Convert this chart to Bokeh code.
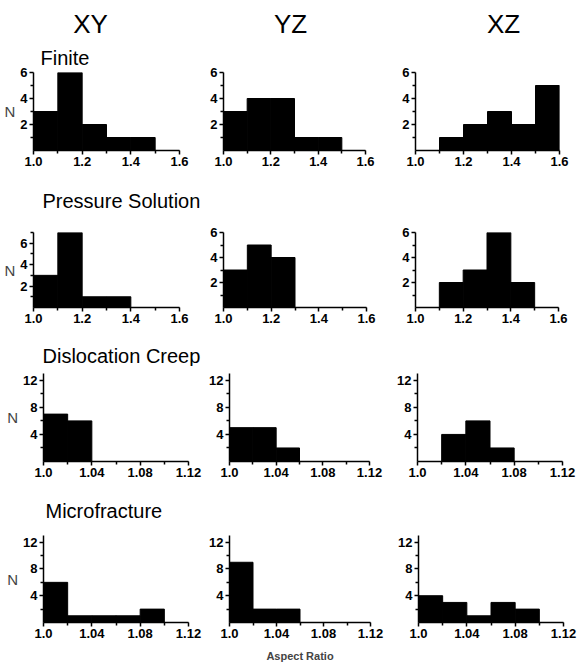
from bokeh.plotting import figure
from bokeh.layouts import column, row
from bokeh.models import Range1d, FixedTicker, CustomJSTickFormatter, Label
from bokeh.embed import file_html
from bokeh.resources import INLINE

# ---------------- data ----------------
edges_coarse = [1.0, 1.1, 1.2, 1.3, 1.4, 1.5, 1.6]
edges_fine = [1.0, 1.02, 1.04, 1.06, 1.08, 1.10, 1.12]

ticks_coarse = [1.0, 1.2, 1.4, 1.6]
minor_coarse = [1.1, 1.3, 1.5]
ticks_fine = [1.0, 1.04, 1.08, 1.12]
minor_fine = [1.02, 1.06, 1.10]

yticks_small = [2, 4, 6]
yminor_small = [1, 3, 5, 7]
yticks_large = [4, 8, 12]
yminor_large = [2, 6, 10]

planes = ["XY", "YZ", "XZ"]
mechanisms = ["Finite", "Pressure Solution", "Dislocation Creep", "Microfracture"]

finite_xy = [3, 6, 2, 1, 1, 0]
finite_yz = [3, 4, 4, 1, 1, 0]
finite_xz = [0, 1, 2, 3, 2, 5]

pressure_xy = [3, 7, 1, 1, 0, 0]
pressure_yz = [3, 5, 4, 0, 0, 0]
pressure_xz = [0, 2, 3, 6, 2, 0]

disloc_xy = [7, 6, 0, 0, 0, 0]
disloc_yz = [5, 5, 2, 0, 0, 0]
disloc_xz = [0, 4, 6, 2, 0, 0]

micro_xy = [6, 1, 1, 1, 2, 0]
micro_yz = [9, 2, 2, 0, 0, 0]
micro_xz = [4, 3, 1, 3, 2, 0]

FONT = "Liberation Sans"

fmt = CustomJSTickFormatter(code="""
const s = tick.toFixed(2);
return s.endsWith("0") ? tick.toFixed(1) : s;
""")


def strip(h, items):
    p = figure(width=580, height=h, x_range=Range1d(0, 580), y_range=Range1d(0, h),
               output_backend="svg", toolbar_location=None, min_border=0,
               x_axis_location=None, y_axis_location=None)
    p.grid.visible = False
    p.outline_line_color = None
    for txt, x, ytop, size, align in items:
        p.add_layout(Label(x=x, y=h - ytop, text=txt, text_font=FONT,
                           text_font_size=size, text_align=align,
                           text_baseline="middle", text_color="black"))
    return p


def panel(counts, edges, ymax, xt, xm, yt, ym, width, height, bl, br, bt, bb,
          ylabel=None, xlabel=None, title=None):
    p = figure(width=width, height=height,
               x_range=Range1d(edges[0], edges[-1]), y_range=Range1d(0, ymax),
               output_backend="svg", toolbar_location=None,
               min_border_left=bl, min_border_right=br,
               min_border_top=bt, min_border_bottom=bb)
    if title:
        p.title.text = title
        p.title.align = "left"
        p.title.offset = 7
        p.title.standoff = 8
        p.title.text_font = FONT
        p.title.text_font_size = "20px"
        p.title.text_font_style = "normal"
        p.title.text_color = "black"
    p.quad(left=edges[:-1], right=edges[1:], bottom=0, top=counts,
           fill_color="black", line_color="black", line_width=1)
    p.grid.visible = False
    p.outline_line_color = None
    p.xaxis.ticker = FixedTicker(ticks=xt, minor_ticks=xm)
    p.xaxis.formatter = fmt
    p.yaxis.ticker = FixedTicker(ticks=yt, minor_ticks=ym)
    for ax in (p.xaxis[0], p.yaxis[0]):
        ax.axis_line_width = 1.5
        ax.axis_line_color = "black"
        ax.major_tick_line_width = 1.5
        ax.minor_tick_line_width = 1.5
        ax.major_tick_line_color = "black"
        ax.minor_tick_line_color = "black"
        ax.major_tick_out = 4
        ax.major_tick_in = 0
        ax.minor_tick_out = 3
        ax.minor_tick_in = 0
        ax.major_label_text_font = FONT
        ax.major_label_text_font_style = "bold"
        ax.major_label_text_font_size = "13px"
        ax.major_label_text_color = "black"
        ax.major_label_standoff = 2
    if ylabel:
        p.yaxis.axis_label = ylabel
        p.yaxis.axis_label_orientation = "horizontal"
        p.yaxis.axis_label_text_font = FONT
        p.yaxis.axis_label_text_font_style = "normal"
        p.yaxis.axis_label_text_font_size = "15px"
        p.yaxis.axis_label_standoff = 2
    if xlabel:
        p.xaxis.axis_label = xlabel
        p.xaxis.axis_label_text_font = FONT
        p.xaxis.axis_label_text_font_style = "bold"
        p.xaxis.axis_label_text_font_size = "11px"
        p.xaxis.axis_label_standoff = 9
    return p


W = [206, 184, 190]

s0 = strip(40, [(planes[0], 90, 23, "26px", "center"),
                (planes[1], 290, 23, "26px", "center"),
                (planes[2], 503, 23, "26px", "center")])

r1 = row(
    panel(finite_xy, edges_coarse, 6, ticks_coarse, minor_coarse, yticks_small, yminor_small,
          W[0], 132, 33, 27, 32, 22, ylabel="N", title=mechanisms[0]),
    panel(finite_yz, edges_coarse, 6, ticks_coarse, minor_coarse, yticks_small, yminor_small,
          W[1], 132, 17, 25, 32, 22),
    panel(finite_xz, edges_coarse, 6, ticks_coarse, minor_coarse, yticks_small, yminor_small,
          W[2], 132, 25, 21, 32, 22),
)
s1 = strip(40, [(mechanisms[1], 42, 28, "20px", "left")])
r2 = row(
    panel(pressure_xy, edges_coarse, 7, ticks_coarse, minor_coarse, yticks_small, yminor_small,
          W[0], 117, 33, 27, 6, 22, ylabel="N"),
    panel(pressure_yz, edges_coarse, 6, ticks_coarse, minor_coarse, yticks_small, yminor_small,
          W[1], 117, 17, 24, 20, 22),
    panel(pressure_xz, edges_coarse, 6, ticks_coarse, minor_coarse, yticks_small, yminor_small,
          W[2], 117, 25, 22, 20, 22),
)
s2 = strip(37, [(mechanisms[2], 42, 26, "20px", "left")])
r3 = row(
    panel(disloc_xy, edges_fine, 13, ticks_fine, minor_fine, yticks_large, yminor_large,
          W[0], 117, 43, 18, 7, 22, ylabel="N"),
    panel(disloc_yz, edges_fine, 13, ticks_fine, minor_fine, yticks_large, yminor_large,
          W[1], 117, 20, 21, 7, 22),
    panel(disloc_xz, edges_fine, 13, ticks_fine, minor_fine, yticks_large, yminor_large,
          W[2], 117, 27, 18, 7, 22),
)
s3 = strip(45, [(mechanisms[3], 45, 27, "20px", "left")])
r4 = row(
    panel(micro_xy, edges_fine, 13, ticks_fine, minor_fine, yticks_large, yminor_large,
          W[0], 136, 43, 18, 7, 41, ylabel="N"),
    panel(micro_yz, edges_fine, 13, ticks_fine, minor_fine, yticks_large, yminor_large,
          W[1], 136, 21, 20, 7, 41, xlabel="Aspect Ratio"),
    panel(micro_xz, edges_fine, 13, ticks_fine, minor_fine, yticks_large, yminor_large,
          W[2], 136, 28, 17, 7, 41),
)

layout = column(s0, r1, s1, r2, s2, r3, s3, r4)
open("out.html", "w").write(file_html(layout, INLINE))
